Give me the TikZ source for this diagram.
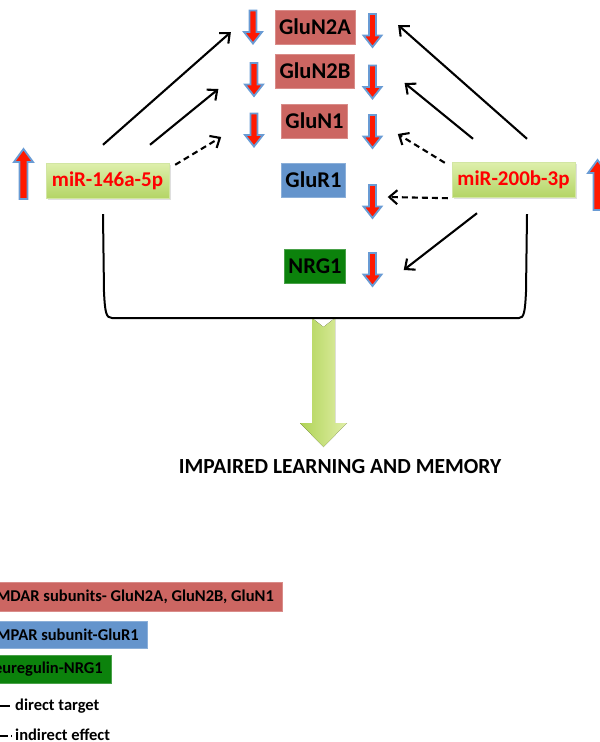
\documentclass[tikz,border=0pt]{standalone}
\usepackage{fontspec}
\setmainfont{Carlito}
\usetikzlibrary{positioning,calc,arrows.meta,shadows}

\definecolor{nmdared}{RGB}{204,102,98}
\definecolor{ampablue}{RGB}{100,148,204}
\definecolor{nrggreen}{RGB}{12,130,12}
\definecolor{mirtop}{RGB}{222,239,172}
\definecolor{mirbot}{RGB}{180,213,102}
\definecolor{arrred}{RGB}{255,25,0}
\definecolor{arrblue}{RGB}{105,155,212}
\definecolor{bigleft}{RGB}{176,211,86}
\definecolor{bigright}{RGB}{224,239,168}

\tikzset{
  box/.style={minimum height=34pt, inner xsep=4pt, font=\fontsize{22.5}{26}\selectfont\bfseries},
  nmda/.style={box, fill=nmdared, draw=nmdared!75!white},
  ampa/.style={box, fill=ampablue, draw=ampablue!75!white},
  nrg/.style={box, fill=nrggreen, draw=nrggreen!75!white},
  mir/.style={minimum height=35pt, minimum width=123pt, inner xsep=3pt, top color=mirtop, bottom color=mirbot,
    draw=mirbot!60!white, text=red, font=\fontsize{21}{25}\selectfont\bfseries,
    drop shadow={opacity=.25, shadow xshift=1.5pt, shadow yshift=-1.5pt}},
  legbox/.style={anchor=east, inner xsep=8pt, font=\fontsize{16.5}{19}\selectfont\bfseries},
  legtext/.style={anchor=base west, inner sep=0pt, font=\fontsize{16.5}{19}\selectfont\bfseries},
  direct/.style={line width=2.1pt, -{Straight Barb[length=8pt,width=14pt]}},
  indirect/.style={direct, dash pattern=on 6pt off 4pt},
  dn/.pic={\draw[fill=arrred, draw=arrblue, line width=1.8pt]
    (-3.5,-16.5) -- (3.5,-16.5) -- (3.5,5) -- (9,5) -- (0,16.5) -- (-9,5) -- (-3.5,5) -- cycle;},
  up/.pic={\draw[fill=arrred, draw=arrblue, line width=1.8pt]
    (-4,25) -- (4,25) -- (4,-12) -- (9.5,-12) -- (0,-25) -- (-9.5,-12) -- (-4,-12) -- cycle;}
}

\begin{document}
\begin{tikzpicture}[x=1pt, y=-1pt]
\useasboundingbox (0,0) rectangle (600,742);
\clip (0,0) rectangle (600,742);

% targets
\node (n2a) [nmda, minimum width=78pt] at (315,27) {GluN2A};
\node (n2b) [nmda, minimum width=76pt] at (315,71) {GluN2B};
\node (n1) [nmda, minimum width=65pt] at (314.5,121) {GluN1};
\node (r1) [ampa, minimum width=63pt] at (313.5,180) {GluR1};
\node (nrg) [nrg, minimum width=60pt] at (315,266) {NRG1};

% microRNAs
\node (mirL) [mir] at (107.5,180.5) {miR-146a-5p};
\node (mirR) [mir] at (513.5,179.5) {miR-200b-3p};

% up / down arrows
\pic at (23.5,174) {up};
\pic at (597.5,185) {up};
\pic at (253,27) {dn};
\pic at (254,79.5) {dn};
\pic at (254,130) {dn};
\pic at (372.5,30.5) {dn};
\pic at (372.5,82) {dn};
\pic at (372.5,131.5) {dn};
\pic at (372.5,201.5) {dn};
\pic at (372.5,269.5) {dn};

% miR-146a-5p
\draw[direct] ($(mirL.north)+(-4.5,-18)$) -- ($(n2a.west)+(-44,5)$);
\draw[direct] ($(mirL.north)+(42.5,-18)$) -- ($(n2b.west)+(-57,18)$);
\draw[indirect] ($(mirL.north east)+(6,2)$) -- ($(n1.west)+(-60,16)$);

% miR-200b-3p
\draw[direct] ($(mirR.north)+(13.5,-23)$) -- ($(n2a.east)+(43,-2)$);
\draw[direct] ($(mirR.north)+(-40.5,-23)$) -- ($(n2b.east)+(50,12)$);
\draw[indirect] ($(mirR.north west)+(-7,1)$) -- ($(n1.east)+(50,13)$);
\draw[indirect] ($(mirR.south west)+(-4,1)$) -- ($(r1.east)+(42,17)$);
\draw[direct] ($(mirR.south)+(-36.5,16)$) -- ($(nrg.east)+(58,4)$);

% outcome
\fill[left color=bigleft, right color=bigright] (312,318) -- (323.5,327) -- (335,318) -- (335,423)
  -- (347,423) -- (323.5,447) -- (300,423) -- (312,423) -- cycle;
\coordinate (brL) at ($(mirL.south)+(-4.5,16)$);
\coordinate (brR) at ($(mirR.south)+(13.5,17)$);
\draw[line width=2pt] (brL) -- (104,292) .. controls (105,312) and (106,318) .. (112,318)
  -- (519,318) .. controls (524,318) and (525,312) .. (526,292) -- (brR);
\node (out) [font=\fontsize{21.5}{25}\selectfont\bfseries] at (340,467) {IMPAIRED LEARNING AND MEMORY};

% legend
\node (legN) [nmda, legbox, minimum height=29pt] at (282,596.5) {NMDAR subunits- GluN2A, GluN2B, GluN1};
\node (legA) [ampa, legbox, minimum height=27pt] at (147,634.5) {AMPAR subunit-GluR1};
\node (legG) [nrg, legbox, minimum height=28pt] at (111,669) {Neuregulin-NRG1};
\node (legD) [legtext] at (15,710) {direct target};
\node (legI) [legtext] at (15,740) {indirect effect};
\draw[line width=2.4pt] (-20,706) -- (10,706);
\draw[line width=2.4pt, dash pattern=on 8pt off 3pt, dash phase=2pt] (-20,736) -- (12,736);
\end{tikzpicture}
\end{document}
